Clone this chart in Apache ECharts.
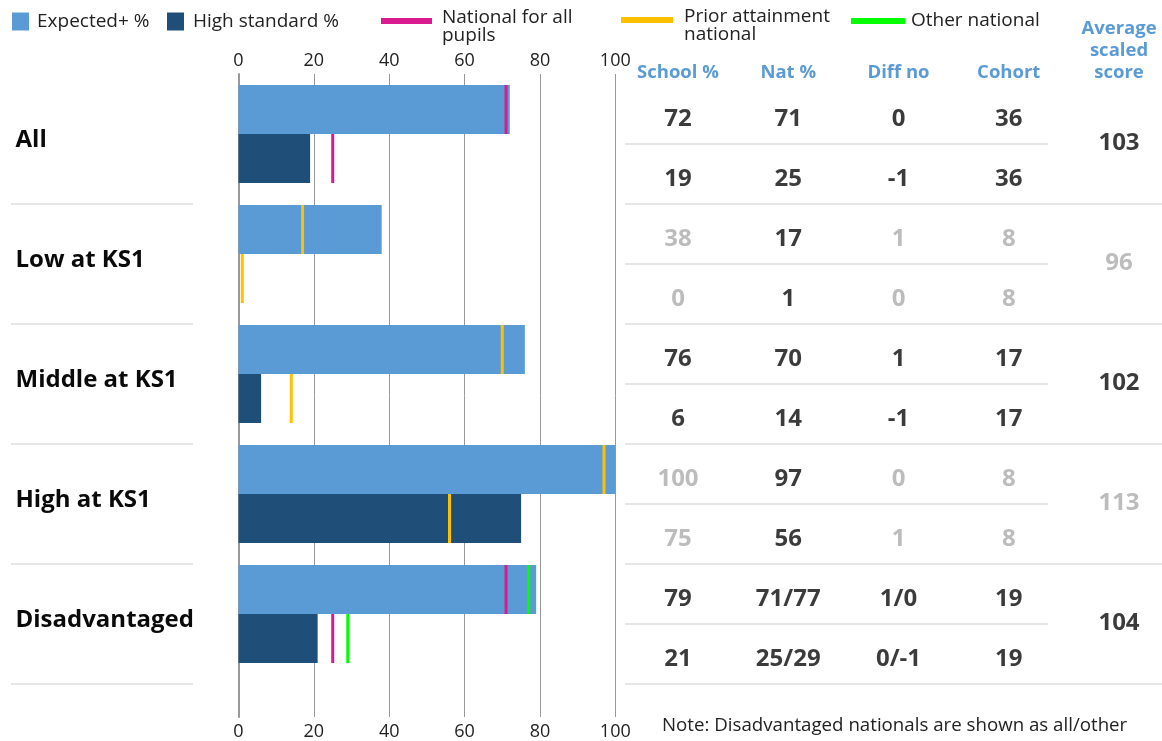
<!DOCTYPE html>
<html>
<head>
<meta charset="utf-8">
<script src="https://cdn.jsdelivr.net/npm/echarts@6/dist/echarts.min.js"></script>
<style>
html,body{margin:0;padding:0;background:#fff;}
#chart{width:1162px;height:741px;}
</style>
</head>
<body>
<div id="chart"></div>
<script>
// ---- data ----
const categories = ['All', 'Low at KS1', 'Middle at KS1', 'High at KS1', 'Disadvantaged'];
const expected = [72, 38, 76, 100, 79];
const highStd = [19, 0, 6, 75, 21];
const nationalExp = [71, null, null, null, 71];
const nationalHigh = [25, null, null, null, 25];
const priorExp = [null, 17, 70, 97, null];
const priorHigh = [null, 1, 14, 56, null];
const otherExp = [null, null, null, null, 77];
const otherHigh = [null, null, null, null, 29];
const natTextExp = ['71', '17', '70', '97', '71/77'];
const natTextHigh = ['25', '1', '14', '56', '25/29'];
const diffExp = ['0', '1', '1', '0', '1/0'];
const diffHigh = ['-1', '0', '-1', '1', '0/-1'];
const cohort = [36, 8, 17, 8, 19];
const avgScore = [103, 96, 102, 113, 104];
const tableHeaders = ['School %', 'Nat %', 'Diff no', 'Cohort', 'Average\nscaled\nscore'];
const axisMin = 0, axisMax = 100, axisStep = 20;
const note = 'Note: Disadvantaged nationals are shown as all/other';

// ---- styles ----
const FONT = '"Open Sans", "Noto Sans", sans-serif';
const C_EXP = '#5B9BD5', C_HIGH = '#1F4E79', C_NAT = '#D91B8F', C_PRIOR = '#FFC000', C_OTHER = '#00FF00';
const C_BLACK = '#0a0a0a', C_GREY = '#ABABAB', C_SEP = '#E6E6E6';
const BAR_W = 49;

function markerData(expArr, highArr) {
  const out = [];
  expArr.forEach((v, i) => { if (v != null) out.push({ value: [v, i], symbolOffset: [0, -BAR_W / 2] }); });
  highArr.forEach((v, i) => { if (v != null) out.push({ value: [v, i], symbolOffset: [0, BAR_W / 2] }); });
  return out;
}

// table cells: [col, row, text]
const cells = [];
categories.forEach((c, g) => {
  const small = cohort[g] < 10;
  const col = small ? C_GREY : C_BLACK;
  const rows = [
    [String(expected[g]), natTextExp[g], diffExp[g], String(cohort[g])],
    [String(highStd[g]), natTextHigh[g], diffHigh[g], String(cohort[g])]
  ];
  rows.forEach((r, k) => {
    r.forEach((t, ci) => {
      cells.push({ value: [ci, 2 * g + k, t], label: { color: ci === 1 ? C_BLACK : col } });
    });
  });
  cells.push({ value: [4, 2 * g + 0.4, String(avgScore[g])], label: { color: col } });
});

const hiddenX = (gi) => ({ gridIndex: gi, type: 'value', show: false, min: 0, max: 1 });
const sepY = (gi, mn, mx) => ({
  gridIndex: gi, type: 'value', inverse: true, min: mn, max: mx, interval: 1,
  axisLine: { show: false }, axisTick: { show: false }, axisLabel: { show: false },
  splitLine: { show: true, lineStyle: { color: C_SEP, width: 2 } }
});
const legendText = (pad) => ({ fontFamily: FONT, fontSize: 19, color: '#222', lineHeight: 18, padding: pad });
// line icon drawn in the upper part of a taller item box (second sub-path is an invisible point)
const lineIcon = (w) => 'path://M0,0H' + w + 'V6H0Z M0,17H0.01';

const chart = echarts.init(document.getElementById('chart'), null, { renderer: 'canvas' });
chart.setOption({
  animation: false,
  textStyle: { fontFamily: FONT },
  title: {
    text: note, left: 662, top: 716, padding: 0,
    textStyle: { fontFamily: FONT, fontSize: 18.7, fontWeight: 'normal', color: '#222' }
  },
  legend: [
    { data: ['Expected+ %'], left: 12, top: 12, padding: 0, icon: 'rect', itemWidth: 17, itemHeight: 18, textStyle: legendText([0, 0, 0, 3]), selectedMode: false },
    { data: ['High standard %'], left: 167, top: 12, padding: 0, icon: 'rect', itemWidth: 17, itemHeight: 18, textStyle: legendText([0, 0, 0, 4]), selectedMode: false },
    { data: ['National for all\npupils'], left: 381, top: 8, padding: 0, icon: lineIcon(51), itemWidth: 51, itemHeight: 17, textStyle: legendText([0, 0, 0, 5]), selectedMode: false },
    { data: ['Prior attainment\nnational'], left: 621, top: 7, padding: 0, icon: lineIcon(52), itemWidth: 52, itemHeight: 17, textStyle: legendText([0, 0, 0, 6]), selectedMode: false },
    { data: ['Other national'], left: 851, top: 11, padding: 0, icon: 'rect', itemWidth: 54, itemHeight: 6, textStyle: legendText([0, 0, 2, 1]), selectedMode: false }
  ],
  grid: [
    { left: 238.5, width: 376.8, top: 74, height: 600 },   // 0 bars
    { left: 238.5, width: 376.8, top: 74, height: 643 },   // 1 value axes + gridlines
    { left: 11, width: 182, top: 204, height: 480 },       // 2 left separators
    { left: 625, right: 0, top: 204, height: 480 },        // 3 table group separators
    { left: 625, width: 423, top: 144, height: 480 },      // 4 table row separators
    { left: 678, width: 441, top: 119, height: 540 }       // 5 table text
  ],
  xAxis: [
    { gridIndex: 0, type: 'value', min: axisMin, max: axisMax, show: false },
    {
      gridIndex: 1, type: 'value', min: axisMin, max: axisMax, interval: axisStep, position: 'top',
      axisLine: { show: false }, axisTick: { show: false },
      axisLabel: { fontFamily: FONT, fontSize: 18, color: '#222', margin: 4 },
      splitLine: { show: true, lineStyle: { color: '#999', width: 1 } }
    },
    {
      gridIndex: 1, type: 'value', min: axisMin, max: axisMax, interval: axisStep, position: 'bottom',
      axisLine: { show: false }, axisTick: { show: false },
      axisLabel: { fontFamily: FONT, fontSize: 18, color: '#222', margin: 6 },
      splitLine: { show: false }
    },
    hiddenX(2), hiddenX(3), hiddenX(4),
    {
      gridIndex: 5, type: 'category', data: tableHeaders, boundaryGap: false, position: 'top',
      axisLine: { show: false }, axisTick: { show: false }, splitLine: { show: false },
      axisLabel: { interval: 0, fontFamily: FONT, fontSize: 18.5, fontWeight: 'bold', color: C_EXP, margin: 35, lineHeight: 22 }
    }
  ],
  yAxis: [
    {
      gridIndex: 0, type: 'category', data: categories, inverse: true,
      axisLine: { show: false }, axisTick: { show: false }, splitLine: { show: false },
      axisLabel: { align: 'left', verticalAlign: 'top', lineHeight: 12, margin: 223, fontFamily: FONT, fontSize: 24, fontWeight: 'bold', color: C_BLACK }
    },
    {
      gridIndex: 1, type: 'value', min: 0, max: 1,
      axisLine: { show: true, lineStyle: { color: '#999', width: 2 } },
      axisTick: { show: false }, axisLabel: { show: false }, splitLine: { show: false }
    },
    sepY(2, 1, 5), sepY(3, 1, 5), sepY(4, 0, 4),
    { gridIndex: 5, type: 'value', inverse: true, min: 0, max: 9, show: false }
  ],
  series: [
    { name: 'Expected+ %', type: 'bar', xAxisIndex: 0, yAxisIndex: 0, data: expected, barWidth: BAR_W, barGap: '0%', itemStyle: { color: C_EXP }, silent: true },
    { name: 'High standard %', type: 'bar', xAxisIndex: 0, yAxisIndex: 0, data: highStd, barWidth: BAR_W, barGap: '0%', itemStyle: { color: C_HIGH }, silent: true },
    { name: 'National for all\npupils', type: 'scatter', xAxisIndex: 0, yAxisIndex: 0, symbol: 'rect', symbolSize: [3, BAR_W], itemStyle: { color: C_NAT, opacity: 1 }, z: 5, silent: true, data: markerData(nationalExp, nationalHigh) },
    { name: 'Prior attainment\nnational', type: 'scatter', xAxisIndex: 0, yAxisIndex: 0, symbol: 'rect', symbolSize: [3, BAR_W], itemStyle: { color: C_PRIOR, opacity: 1 }, z: 5, silent: true, data: markerData(priorExp, priorHigh) },
    { name: 'Other national', type: 'scatter', xAxisIndex: 0, yAxisIndex: 0, symbol: 'rect', symbolSize: [3, BAR_W], itemStyle: { color: C_OTHER, opacity: 1 }, z: 5, silent: true, data: markerData(otherExp, otherHigh) },
    {
      name: 'table', type: 'scatter', xAxisIndex: 6, yAxisIndex: 5, symbolSize: 1,
      itemStyle: { color: 'rgba(0,0,0,0)' }, silent: true,
      label: { show: true, position: 'inside', formatter: (p) => p.data.value[2], fontFamily: FONT, fontSize: 24, fontWeight: 'bold' },
      data: cells
    }
  ]
});
</script>
</body>
</html>
